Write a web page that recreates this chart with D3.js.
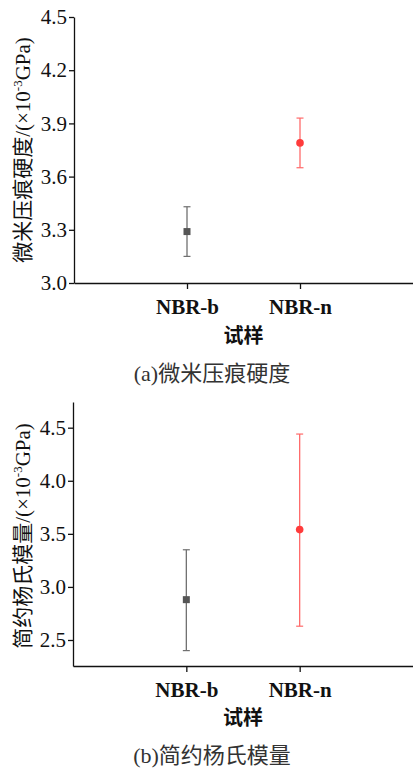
<!DOCTYPE html>
<html>
<head>
<meta charset="utf-8">
<script src="https://cdn.jsdelivr.net/npm/d3@7"></script>
<style>
  body { margin: 0; background: #fff; }
  svg { display: block; }
</style>
</head>
<body>
<svg id="chart" width="413" height="768"></svg>
<script>
// data
let samples = ["NBR-b", "NBR-n"];
let hardMean = [3.29, 3.79];
let hardLow = [3.15, 3.65];
let hardHigh = [3.43, 3.93];
let hardTicks = [3.0, 3.3, 3.6, 3.9, 4.2, 4.5];

let modMean = [2.88, 3.54];
let modLow = [2.40, 2.63];
let modHigh = [3.35, 4.44];
let modTicks = [2.5, 3.0, 3.5, 4.0, 4.5];

let colors = ["#555555", "#ff3b3b"];
let barColors = ["#707070", "#ff6a6a"];

const serif = "Liberation Serif, Times New Roman, Times, DejaVu Serif, serif, Noto Sans CJK SC";
const svg = d3.select("#chart");

function drawPanel(opt) {
	let g = svg.append("g");

	let x = d3.scalePoint()
		.domain(samples)
		.range([opt.left, opt.right])
		.padding(1);

	let y = d3.scaleLinear()
		.domain(opt.domain)
		.range([opt.bottom, opt.top]);

	// axes
	let xa = g.append("g")
		.attr("transform", "translate(0," + opt.bottom + ")")
		.call(d3.axisBottom(x).tickSize(6).tickSizeOuter(0));
	xa.select(".domain").attr("stroke", "#111").attr("stroke-width", 1.3);
	xa.selectAll(".tick line").attr("stroke", "#111").attr("stroke-width", 1.3);
	xa.selectAll(".tick text")
		.attr("y", 31).attr("dy", 0)
		.attr("fill", "#111")
		.attr("font-family", serif)
		.attr("font-size", 21)
		.attr("font-weight", "bold");

	let ya = g.append("g")
		.attr("transform", "translate(" + opt.left + ",0)")
		.call(d3.axisLeft(y).tickValues(opt.ticks).tickFormat(d3.format(".1f")).tickSize(5).tickPadding(2).tickSizeOuter(0));
	ya.select(".domain").attr("stroke", "#111").attr("stroke-width", 1.3);
	ya.selectAll(".tick line").attr("stroke", "#111").attr("stroke-width", 1.3);
	ya.selectAll(".tick text")
		.attr("fill", "#111")
		.attr("font-family", serif)
		.attr("font-size", 21);

	// error bars
	let eb = g.selectAll(".eb")
		.data(samples)
		.enter().append("g");
	eb.append("line")
		.attr("x1", function(d) { return x(d); })
		.attr("x2", function(d) { return x(d); })
		.attr("y1", function(d, i) { return y(opt.low[i]); })
		.attr("y2", function(d, i) { return y(opt.high[i]); })
		.attr("stroke", function(d, i) { return barColors[i]; })
		.attr("stroke-width", 1.3);
	[opt.low, opt.high].forEach(function(arr) {
		eb.append("line")
			.attr("x1", function(d) { return x(d) - 3.5; })
			.attr("x2", function(d) { return x(d) + 3.5; })
			.attr("y1", function(d, i) { return y(arr[i]); })
			.attr("y2", function(d, i) { return y(arr[i]); })
			.attr("stroke", function(d, i) { return barColors[i]; })
			.attr("stroke-width", 1.2);
	});

	// markers
	g.append("rect")
		.attr("x", x(samples[0]) - 3.5)
		.attr("y", y(opt.mean[0]) - 3.5)
		.attr("width", 7)
		.attr("height", 7)
		.attr("fill", colors[0]);
	g.append("circle")
		.attr("cx", x(samples[1]))
		.attr("cy", y(opt.mean[1]))
		.attr("r", 3.8)
		.attr("fill", colors[1]);

	// x-axis label
	g.append("text")
		.attr("x", (opt.left + opt.right) / 2)
		.attr("y", opt.bottom + opt.xlabDy)
		.attr("text-anchor", "middle")
		.attr("font-family", serif)
		.attr("font-size", 20)
		.attr("font-weight", "bold")
		.attr("fill", "#111")
		.text("试样");

	// y-axis label
	let yl = g.append("text")
		.attr("transform", "translate(30," + ((opt.top + opt.bottom) / 2 + opt.ylabShift) + ") rotate(-90)")
		.attr("text-anchor", "middle")
		.attr("font-family", serif)
		.attr("font-size", 21)
		.attr("fill", "#111");
	yl.append("tspan").text(opt.ylabel + "/(×10");
	yl.append("tspan").attr("dy", -8).attr("font-size", 13).text("-3");
	yl.append("tspan").attr("dy", 8).text("GPa)");

	// caption
	g.append("text")
		.attr("x", 212)
		.attr("y", opt.capY)
		.attr("text-anchor", "middle")
		.attr("font-family", serif)
		.attr("font-size", 22)
		.attr("fill", "#333")
		.text(opt.caption);
}

drawPanel({
	left: 74, right: 413, top: 17, bottom: 283,
	domain: [3.0, 4.5], ticks: hardTicks,
	mean: hardMean, low: hardLow, high: hardHigh,
	ylabel: "微米压痕硬度", caption: "(a)微米压痕硬度",
	xlabDy: 60, capY: 381, ylabShift: 0
});

drawPanel({
	left: 73, right: 413, top: 402, bottom: 666,
	domain: [2.255, 4.742], ticks: modTicks,
	mean: modMean, low: modLow, high: modHigh,
	ylabel: "简约杨氏模量", caption: "(b)简约杨氏模量",
	xlabDy: 59, capY: 763, ylabShift: 2
});
</script>
</body>
</html>
